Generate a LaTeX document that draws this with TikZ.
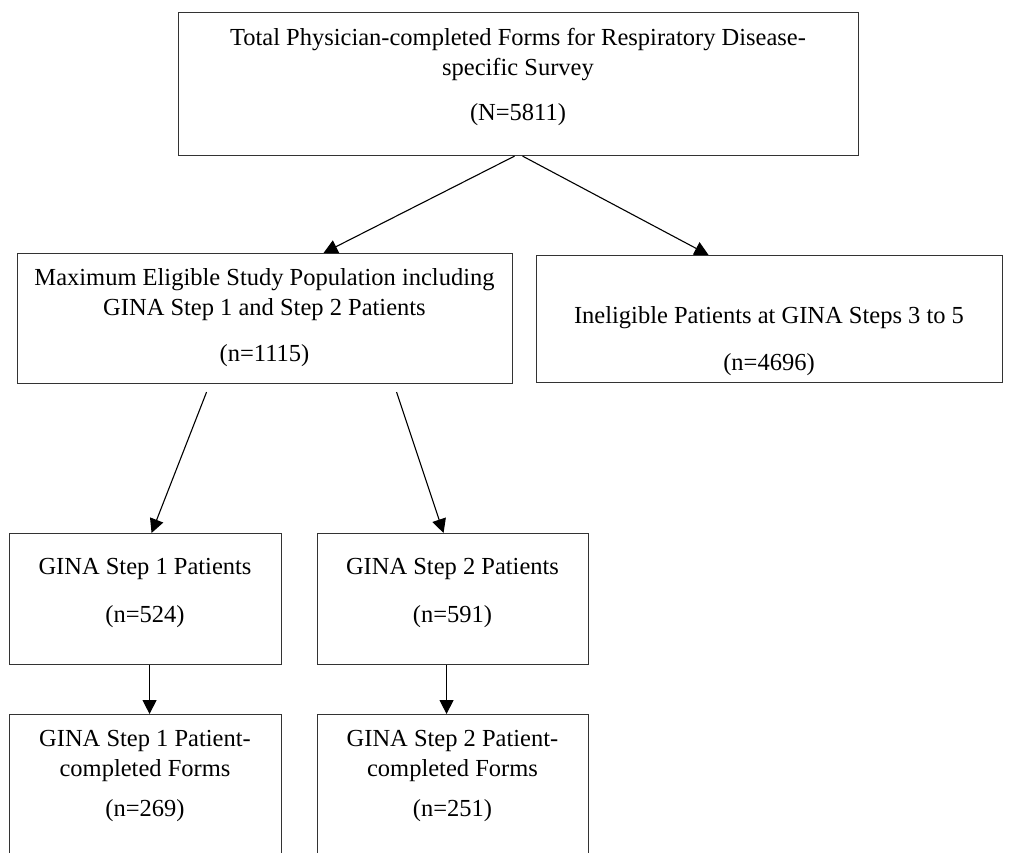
\documentclass[tikz,border=0pt]{standalone}
\usepackage{fontspec}
\setmainfont{Liberation Serif}
\usetikzlibrary{arrows.meta}
\begin{document}
\begin{tikzpicture}[x=1pt,y=-1pt,
  box/.style={draw=black!80, line width=1.1pt, rectangle, inner sep=0pt, anchor=north west, fill=white},
  txt/.style={anchor=north, inner sep=0pt, align=center, font=\fontsize{24.5pt}{30pt}\selectfont},
  arr/.style={draw=black, line width=1.1pt, -{Triangle[length=14pt,width=14pt]}}]
\clip (0,0) rectangle (1017,853);
\fill[white] (0,0) rectangle (1017,853);
% boxes
\node[box, minimum width=680pt, minimum height=143pt] (top) at (178,12) {};
\node[box, minimum width=495pt, minimum height=130pt] (maxel) at (17,253) {};
\node[box, minimum width=466pt, minimum height=127pt] (inel) at (536,255) {};
\node[box, minimum width=272pt, minimum height=131pt] (step1) at (9,533) {};
\node[box, minimum width=271pt, minimum height=131pt] (step2) at (317,533) {};
\node[box, minimum width=272pt, minimum height=170pt] (b1) at (9,714) {};
\node[box, minimum width=271pt, minimum height=170pt] (b2) at (317,714) {};
% texts
\node[txt] (topT) at (518,28.5) {Total Physician-completed Forms for Respiratory Disease-\\specific Survey\\[15pt](N=5811)};
\node[txt] (maxelT) at (264.5,268) {Maximum Eligible Study Population including\\GINA Step 1 and Step 2 Patients\\[16pt](n=1115)};
\node[txt] (inelT) at (769,306) {Ineligible Patients at GINA Steps 3 to 5\\[17pt](n=4696)};
\node[txt] (step1T) at (145,558) {GINA Step 1 Patients\\[18pt](n=524)};
\node[txt] (step2T) at (452.5,558) {GINA Step 2 Patients\\[18pt](n=591)};
\node[txt] (b1T) at (145,730) {GINA Step 1 Patient-\\completed Forms\\[10pt](n=269)};
\node[txt] (b2T) at (452.5,730) {GINA Step 2 Patient-\\completed Forms\\[10pt](n=251)};
% connectors
\draw[arr] ([xshift=-4pt]top.south) -- ([xshift=58.5pt]maxel.north);
\draw[arr] ([xshift=4pt]top.south) -- ([xshift=-61pt]inel.north);
\draw[arr] ([xshift=-58.5pt,yshift=-8pt]maxel.south) -- ([xshift=6pt]step1.north);
\draw[arr] ([xshift=131.5pt,yshift=-8pt]maxel.south) -- ([xshift=-9.5pt]step2.north);
\draw[arr] ([xshift=4pt]step1.south) -- ([xshift=4pt]b1.north);
\draw[arr] ([xshift=-6.5pt]step2.south) -- ([xshift=-6.5pt]b2.north);
\end{tikzpicture}
\end{document}
